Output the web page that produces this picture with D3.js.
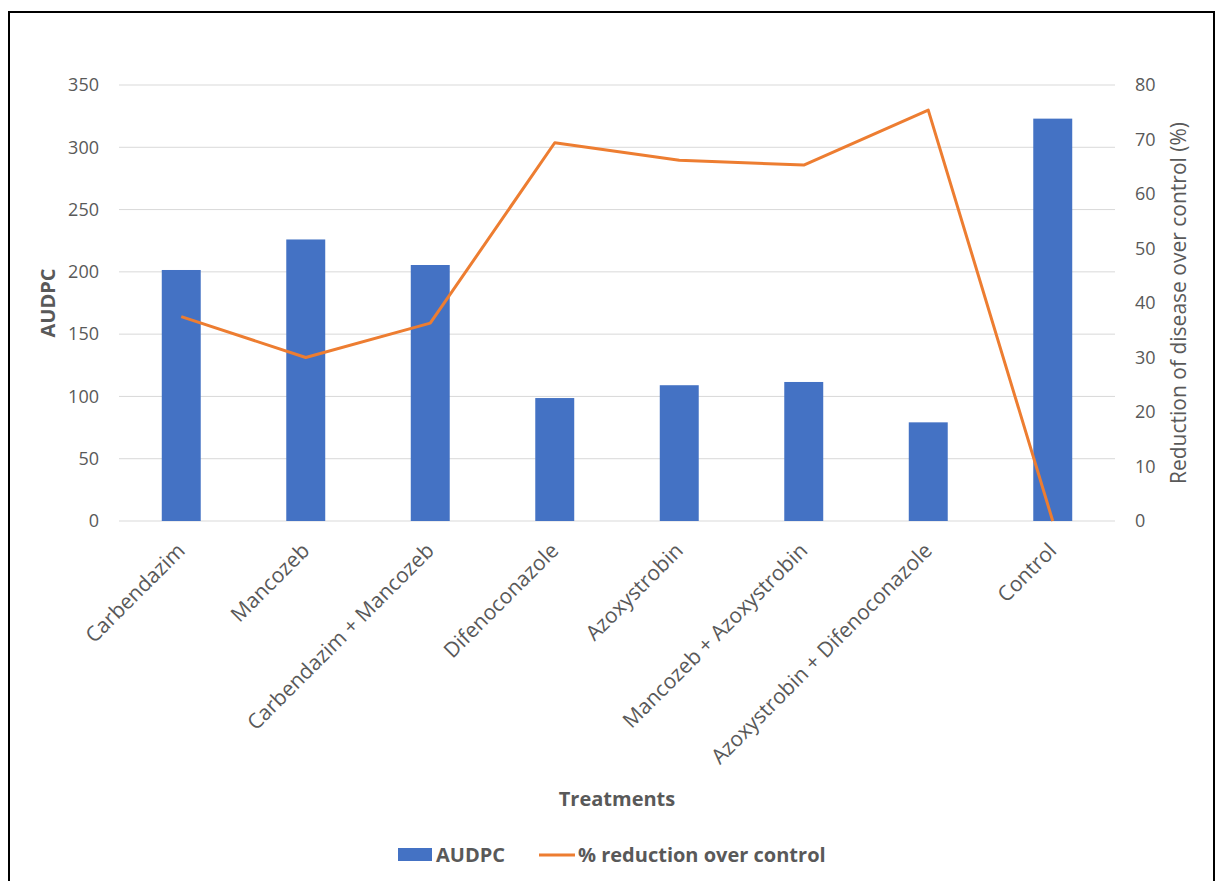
<!DOCTYPE html>
<html>
<head>
<meta charset="utf-8">
<script src="https://cdn.jsdelivr.net/npm/d3@7/dist/d3.min.js"></script>
<style>
body { margin: 0; background: #fff; }
text { font-family: "Open Sans", "Liberation Sans", sans-serif; fill: #595959; }
</style>
</head>
<body>
<div id="vis"></div>
<script>
var w = 1219;
var h = 881;

// data
var treatments = ["Carbendazim", "Mancozeb", "Carbendazim + Mancozeb", "Difenoconazole",
	"Azoxystrobin", "Mancozeb + Azoxystrobin", "Azoxystrobin + Difenoconazole", "Control"];
var audpc = [201.5, 226, 205.5, 98.7, 109, 111.6, 79.2, 323];
var reduction = [37.5, 30.0, 36.3, 69.4, 66.2, 65.3, 75.4, 0];
var leftTicks = [0, 50, 100, 150, 200, 250, 300, 350];
var rightTicks = [0, 10, 20, 30, 40, 50, 60, 70, 80];

// plot area
var plotL = 119, plotR = 1115, plotT = 85, plotB = 521;

var svg = d3.select("#vis")
	.append("svg")
	.attr("width", w)
	.attr("height", h);

// frame
svg.append("rect")
	.attr("x", 9)
	.attr("y", 12)
	.attr("width", 1205)
	.attr("height", 900)
	.attr("fill", "none")
	.attr("stroke", "#000")
	.attr("stroke-width", 2);

var x = d3.scaleBand()
	.domain(treatments)
	.range([plotL, plotR])
	.paddingInner(0.687)
	.paddingOuter(0.3435);

var yL = d3.scaleLinear().domain([0, 350]).range([plotB, plotT]);
var yR = d3.scaleLinear().domain([0, 80]).range([plotB, plotT]);

// gridlines
svg.selectAll(".grid")
	.data(leftTicks)
	.enter()
	.append("line")
	.attr("x1", plotL)
	.attr("x2", plotR)
	.attr("y1", function(d) { return yL(d); })
	.attr("y2", function(d) { return yL(d); })
	.attr("stroke", "#d9d9d9")
	.attr("stroke-width", 1);

// left axis
var axL = svg.append("g")
	.attr("transform", "translate(" + (plotL - 20) + ",0)")
	.call(d3.axisLeft(yL).tickValues(leftTicks).tickSize(0).tickPadding(0));
axL.select(".domain").remove();
axL.selectAll("text").style("font-size", "18px").attr("fill", "#595959");

// right axis
var axR = svg.append("g")
	.attr("transform", "translate(" + (plotR + 20) + ",0)")
	.call(d3.axisRight(yR).tickValues(rightTicks).tickSize(0).tickPadding(0));
axR.select(".domain").remove();
axR.selectAll("text").style("font-size", "18px").attr("fill", "#595959");

// bars
svg.selectAll(".bar")
	.data(audpc)
	.enter()
	.append("rect")
	.attr("class", "bar")
	.attr("x", function(d, i) { return x(treatments[i]); })
	.attr("width", x.bandwidth())
	.attr("y", function(d) { return yL(d); })
	.attr("height", function(d) { return yL(0) - yL(d); })
	.attr("fill", "#4472C4");

// line
var line = d3.line()
	.x(function(d, i) { return x(treatments[i]) + x.bandwidth() / 2; })
	.y(function(d) { return yR(d); });

svg.append("path")
	.datum(reduction)
	.attr("d", line)
	.attr("fill", "none")
	.attr("stroke", "#ED7D31")
	.attr("stroke-width", 3)
	.attr("stroke-linejoin", "round");

// category labels
svg.selectAll(".catlabel")
	.data(treatments)
	.enter()
	.append("text")
	.attr("class", "catlabel")
	.attr("text-anchor", "end")
	.attr("transform", function(d) {
		var cx = x(d) + x.bandwidth() / 2;
		return "translate(" + (cx + 5) + "," + 552 + ") rotate(-45)";
	})
	.style("font-size", "21px")
	.text(function(d) { return d; });

// axis titles
svg.append("text")
	.text("AUDPC")
	.attr("text-anchor", "middle")
	.attr("transform", "translate(55," + ((plotT + plotB) / 2) + ") rotate(-90)")
	.style("font-size", "20px")
	.style("font-weight", "bold");

svg.append("text")
	.text("Reduction of disease over control (%)")
	.attr("text-anchor", "middle")
	.attr("transform", "translate(1186," + ((plotT + plotB) / 2) + ") rotate(-90)")
	.style("font-size", "21px");

svg.append("text")
	.text("Treatments")
	.attr("text-anchor", "middle")
	.attr("x", (plotL + plotR) / 2)
	.attr("y", 806)
	.style("font-size", "20px")
	.style("font-weight", "bold");

// legend
svg.append("rect")
	.attr("x", 398)
	.attr("y", 848)
	.attr("width", 34)
	.attr("height", 13)
	.attr("fill", "#4472C4");
svg.append("text")
	.text("AUDPC")
	.attr("x", 436)
	.attr("y", 862)
	.style("font-size", "20px")
	.style("font-weight", "bold");
svg.append("line")
	.attr("x1", 539)
	.attr("x2", 575)
	.attr("y1", 855)
	.attr("y2", 855)
	.attr("stroke", "#ED7D31")
	.attr("stroke-width", 3);
svg.append("text")
	.text("% reduction over control")
	.attr("x", 578)
	.attr("y", 862)
	.style("font-size", "20px")
	.style("font-weight", "bold");
</script>
</body>
</html>
